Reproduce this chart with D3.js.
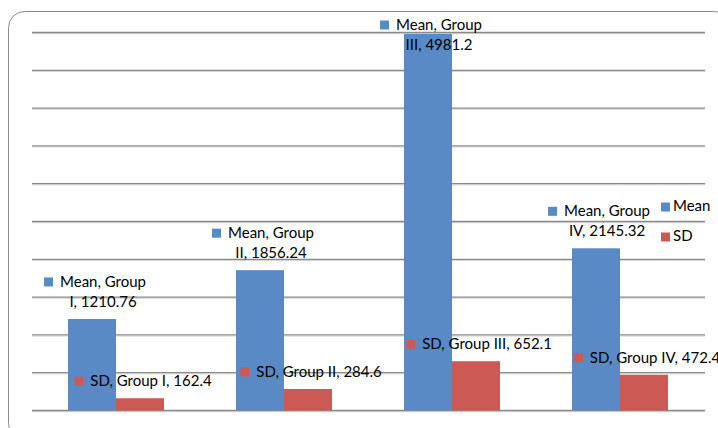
<!DOCTYPE html>
<html>
<head>
<meta charset="utf-8">
<script src="https://cdn.jsdelivr.net/npm/d3@7"></script>
<style>
  body { margin: 0; background: #fff; }
  svg { display: block; font-family: Lato, "Open Sans", sans-serif; }
</style>
</head>
<body>
<svg id="chart" width="718" height="428"></svg>
<script>
const groups = ["Group I", "Group II", "Group III", "Group IV"];
const seriesNames = ["Mean", "SD"];
const meanValues = [1210.76, 1856.24, 4981.2, 2145.32];
const sdValues = [162.4, 284.6, 652.1, 472.4];
const meanLabels = ["1210.76", "1856.24", "4981.2", "2145.32"];
const sdLabels = ["162.4", "284.6", "652.1", "472.4"];
const colors = ["#5a8ac6", "#cb5a55"];

const svg = d3.select("#chart");

// chart area border (rounded, running off the right/bottom edge)
svg.append("rect")
    .attr("x", 8.5).attr("y", 11.5)
    .attr("width", 722).attr("height", 428)
    .attr("rx", 16)
    .attr("fill", "none")
    .attr("stroke", "#8a8a8a")
    .attr("stroke-width", 1);

// scales
const x0 = d3.scaleBand().domain(groups).range([32, 704]);
const x1 = d3.scaleBand().domain(seriesNames).range([36, 132]);
const y = d3.scaleLinear().domain([0, 5000]).range([410.5, 32.5]);

// gridlines
const ticks = d3.range(0, 5001, 500);
const grid = svg.append("g");
grid.selectAll(".shadow")
    .data(ticks)
    .enter().append("line")
    .attr("x1", 32).attr("x2", 705)
    .attr("y1", d => y(d) + 1.2).attr("y2", d => y(d) + 1.2)
    .attr("stroke", "#d6d6d6").attr("stroke-width", 1);
grid.selectAll(".gl")
    .data(ticks)
    .enter().append("line")
    .attr("x1", 32).attr("x2", 705)
    .attr("y1", d => y(d)).attr("y2", d => y(d))
    .attr("stroke", "#8a8a8a").attr("stroke-width", 1.3);

// bars
const rows = groups.map((g, i) => ({
    group: g,
    values: [
        { series: "Mean", value: meanValues[i], label: meanLabels[i] },
        { series: "SD", value: sdValues[i], label: sdLabels[i] }
    ]
}));

const gGroups = svg.selectAll(".grp")
    .data(rows)
    .enter().append("g")
    .attr("transform", d => "translate(" + x0(d.group) + ",0)");

gGroups.selectAll("rect")
    .data(d => d.values)
    .enter().append("rect")
    .attr("x", d => x1(d.series))
    .attr("y", d => y(d.value))
    .attr("width", x1.bandwidth())
    .attr("height", d => y(0) - y(d.value))
    .attr("fill", (d, i) => colors[i]);

// data labels with legend keys
const fontSize = 15;
const keySize = 9;
const keyGap = 7;
const labels = svg.append("g").attr("font-size", fontSize).attr("fill", "#000");

rows.forEach(row => {
    row.values.forEach((v, si) => {
        const cx = x0(row.group) + x1(v.series) + x1.bandwidth() / 2 + 3;
        const top = y(v.value);
        const grp = labels.append("g");
        let lines, base;
        if (v.series === "Mean") {
            lines = ["Mean, Group", row.group.replace("Group ", "") + ", " + v.label];
            base = Math.max(top - 12 - 20, 30);
        } else {
            lines = ["SD, " + row.group + ", " + v.label];
            base = top - 12;
        }
        const texts = lines.map((t, li) => grp.append("text")
            .attr("y", base + li * 20)
            .attr("text-anchor", "middle")
            .text(t));
        const maxW = d3.max(texts, t => t.node().getComputedTextLength());
        const total = keySize + keyGap + maxW;
        const textCx = cx - total / 2 + keySize + keyGap + maxW / 2;
        texts.forEach(t => t.attr("x", textCx));
        grp.append("rect")
            .attr("x", cx - total / 2)
            .attr("y", base - 5 - keySize / 2)
            .attr("width", keySize).attr("height", keySize)
            .attr("fill", colors[si]);
    });
});

// legend
const legend = svg.append("g").attr("font-size", 15).attr("fill", "#000");
seriesNames.forEach((s, i) => {
    const ly = 207 + i * 30;
    legend.append("rect")
        .attr("x", 661).attr("y", ly - 4.5)
        .attr("width", keySize).attr("height", keySize)
        .attr("fill", colors[i]);
    legend.append("text")
        .attr("x", 673).attr("y", ly + 4)
        .text(s);
});
</script>
</body>
</html>
